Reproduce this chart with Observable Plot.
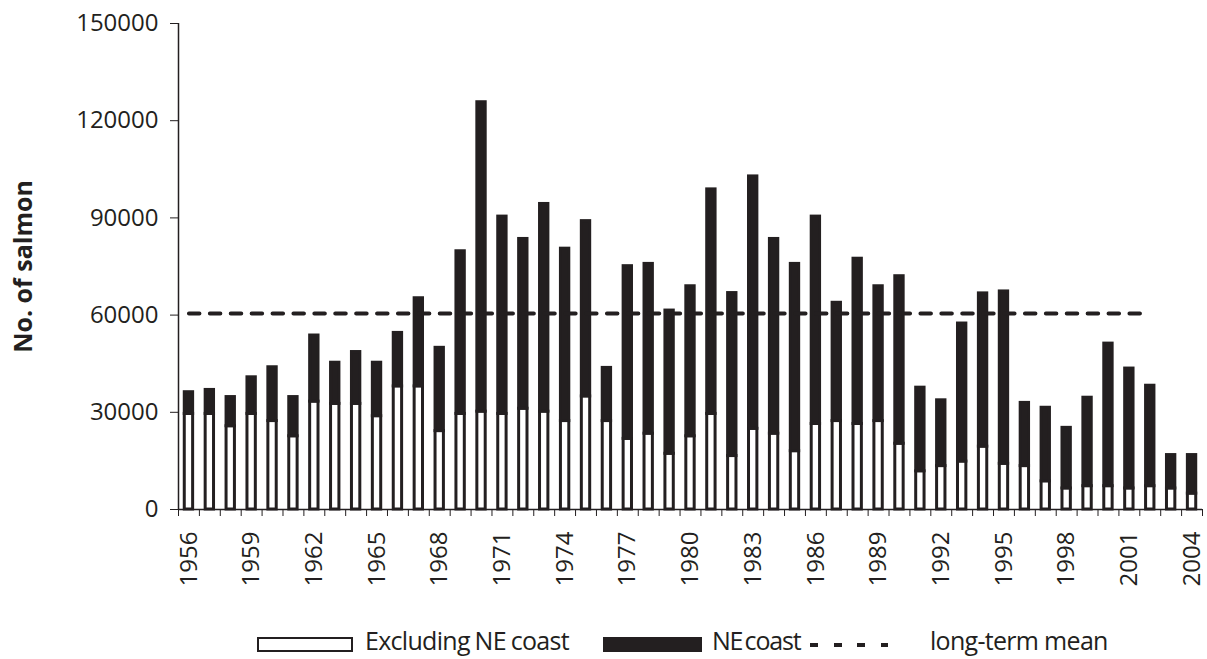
<!DOCTYPE html>
<html>
<head>
<meta charset="utf-8">
<script src="https://cdn.jsdelivr.net/npm/d3@7"></script>
<script src="https://cdn.jsdelivr.net/npm/@observablehq/plot@0.6"></script>
<style>
  html, body { margin: 0; padding: 0; background: #fff; }
  #wrap { position: relative; width: 1207px; height: 659px; font-family: "Open Sans", "Noto Sans", sans-serif; color: #231f20; }
  #chart svg { display: block; }
  #legend { position: absolute; left: 0; top: 626px; width: 1207px; height: 28px; font-size: 25px; letter-spacing: -0.7px; white-space: nowrap; }
  #legend span { position: absolute; }
  .tx { top: 0; line-height: 28px; }
  .sw { box-sizing: border-box; top: 11px; height: 15px; }
  .sw.white { width: 96px; border: 2.5px solid #231f20; background: #fff; }
  .sw.black { width: 99px; background: #231f20; }
  .sw.dash { top: 17px; width: 78px; height: 4px; background: repeating-linear-gradient(to right, #231f20 0 8px, transparent 8px 23.5px); }
</style>
</head>
<body>
<div id="wrap">
  <div id="chart"></div>
  <div id="legend"></div>
</div>
<script>
const years = d3.range(1956, 2005);
const excludingNE = [29500, 29500, 25700, 29500, 27300, 22600, 33300, 32600, 32600, 28800,
  38000, 38000, 24200, 29500, 30200, 29500, 31100, 30200, 27300, 34900,
  27300, 21800, 23400, 17200, 22600, 29500, 16500, 24900, 23400, 18000,
  26400, 27300, 26400, 27300, 20300, 11800, 13400, 14800, 19400, 14100,
  13400, 8700, 6500, 7200, 7200, 6500, 7200, 6500, 4900];
const neCoast = [6700, 7400, 9000, 11300, 16600, 12100, 20400, 12700, 16000, 16500,
  16500, 27200, 25700, 50200, 95500, 60900, 52400, 64100, 53200, 54100,
  16400, 53300, 52400, 44200, 46300, 69300, 50300, 77900, 60100, 57800,
  64000, 36500, 51000, 41600, 51700, 25800, 20300, 42600, 47300, 53200,
  19500, 22700, 18700, 27300, 44000, 37000, 31000, 10300, 11900];
const longTermMean = 60500;
const meanLastYear = 2002;
const yTicks = [0, 30000, 60000, 90000, 120000, 150000];
const labelYears = d3.range(1956, 2005, 3);
const seriesNames = ["Excluding NE coast", "NE coast", "long-term mean"];
const yLabel = "No. of salmon";

const ink = "#231f20";
const rows = years.map((year, i) => ({year, excl: excludingNE[i], total: excludingNE[i] + neCoast[i]}));
const meanRows = years.filter(y => y <= meanLastYear).map(year => ({year, value: longTermMean}));
const xDomain = [years[0] - 0.5, years[years.length - 1] + 0.5];
const boundaries = d3.range(xDomain[0], xDomain[1] + 0.01, 1);
const half = 0.2;

const chart = Plot.plot({
  width: 1207,
  height: 600,
  marginLeft: 178,
  marginRight: 5,
  marginTop: 23,
  marginBottom: 91,
  style: {fontFamily: '"Open Sans", "Noto Sans", sans-serif', fontSize: "24px", color: ink, background: "#fff"},
  x: {type: "linear", domain: xDomain},
  y: {domain: [0, 150000]},
  marks: [
    Plot.rectY(rows, {x1: d => d.year - half, x2: d => d.year + half, y1: 0, y2: "excl", fill: "#fff", stroke: ink, strokeWidth: 3}),
    Plot.rectY(rows, {x1: d => d.year - half, x2: d => d.year + half, y1: "excl", y2: "total", fill: ink, stroke: ink, strokeWidth: 3}),
    Plot.lineY(meanRows, {x: "year", y: "value", stroke: ink, strokeWidth: 4, strokeDasharray: "10.5,10.4"}),
    Plot.ruleY([0], {stroke: ink, strokeWidth: 1.5}),
    Plot.ruleX([xDomain[0]], {y1: 0, y2: yTicks[yTicks.length - 1], stroke: ink, strokeWidth: 1.5}),
    Plot.axisY({ticks: yTicks, tickSize: 8, tickPadding: 12, tickFormat: d => String(d), label: null, stroke: ink, fill: ink, fontSize: 24}),
    Plot.axisX({ticks: boundaries, tickSize: 7, tickFormat: () => "", label: null, stroke: ink}),
    Plot.axisX({ticks: labelYears, tickSize: 0, tickRotate: -90, tickPadding: 22, tickFormat: d => String(d), label: null, fill: ink, fontSize: 24}),
    Plot.text([yLabel], {frameAnchor: "left", textAnchor: "middle", rotate: -90, dx: -155, fontWeight: "bold", fontSize: 25, fill: ink})
  ]
});
document.getElementById("chart").appendChild(chart);

const legend = document.getElementById("legend");
const swClasses = ["white", "black", "dash"];
const swLeft = [257, 603, 810];
const txLeft = [365, 712, 930];
const wordGap = ["-1px", "-3px", "0px"];
const letterGap = ["-0.7px", "-1.2px", "-0.7px"];
seriesNames.forEach((name, i) => {
  const sw = document.createElement("span");
  sw.className = "sw " + swClasses[i];
  sw.style.left = swLeft[i] + "px";
  const tx = document.createElement("span");
  tx.className = "tx";
  tx.textContent = name;
  tx.style.left = txLeft[i] + "px";
  tx.style.wordSpacing = wordGap[i];
  tx.style.letterSpacing = letterGap[i];
  legend.appendChild(sw);
  legend.appendChild(tx);
});
</script>
</body>
</html>
